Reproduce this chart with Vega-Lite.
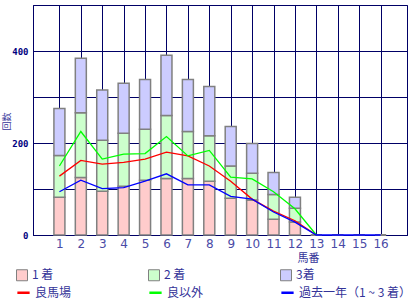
{
  "$schema": "https://vega.github.io/schema/vega-lite/v6.json",
  "width": 374,
  "height": 230,
  "autosize": {"type": "none"},
  "padding": {"left": 33, "top": 5, "right": 13, "bottom": 65},
  "background": "white",
  "config": {
    "view": {"stroke": "#000066", "strokeWidth": 1},
    "font": "Noto Sans CJK JP",
    "axis": {"gridColor": "#000066", "gridOpacity": 1, "gridWidth": 1, "domainColor": "#000066", "domainWidth": 1, "ticks": false},
    "axisX": {"labelOverlap": false, "labelBound": false, "labelFlush": false},
    "legend": {"padding": 0, "labelFont": "Noto Sans CJK JP", "labelFontSize": 12, "labelColor": "#333399", "labelOffset": 4, "title": null}
  },
  "datasets": {
    "bars": [
      {"umaban": 1, "place": "1 着", "count": 82}, {"umaban": 1, "place": "2 着", "count": 91}, {"umaban": 1, "place": "3着", "count": 102},
      {"umaban": 2, "place": "1 着", "count": 125}, {"umaban": 2, "place": "2 着", "count": 141}, {"umaban": 2, "place": "3着", "count": 118},
      {"umaban": 3, "place": "1 着", "count": 95}, {"umaban": 3, "place": "2 着", "count": 111}, {"umaban": 3, "place": "3着", "count": 109},
      {"umaban": 4, "place": "1 着", "count": 106}, {"umaban": 4, "place": "2 着", "count": 115}, {"umaban": 4, "place": "3着", "count": 109},
      {"umaban": 5, "place": "1 着", "count": 119}, {"umaban": 5, "place": "2 着", "count": 111}, {"umaban": 5, "place": "3着", "count": 108},
      {"umaban": 6, "place": "1 着", "count": 123}, {"umaban": 6, "place": "2 着", "count": 137}, {"umaban": 6, "place": "3着", "count": 131},
      {"umaban": 7, "place": "1 着", "count": 123}, {"umaban": 7, "place": "2 着", "count": 102}, {"umaban": 7, "place": "3着", "count": 113},
      {"umaban": 8, "place": "1 着", "count": 117}, {"umaban": 8, "place": "2 着", "count": 99}, {"umaban": 8, "place": "3着", "count": 107},
      {"umaban": 9, "place": "1 着", "count": 80}, {"umaban": 9, "place": "2 着", "count": 70}, {"umaban": 9, "place": "3着", "count": 86},
      {"umaban": 10, "place": "1 着", "count": 76}, {"umaban": 10, "place": "2 着", "count": 58}, {"umaban": 10, "place": "3着", "count": 65},
      {"umaban": 11, "place": "1 着", "count": 34}, {"umaban": 11, "place": "2 着", "count": 54}, {"umaban": 11, "place": "3着", "count": 48},
      {"umaban": 12, "place": "1 着", "count": 28}, {"umaban": 12, "place": "2 着", "count": 30}, {"umaban": 12, "place": "3着", "count": 24},
      {"umaban": 13, "place": "1 着", "count": 0}, {"umaban": 13, "place": "2 着", "count": 0}, {"umaban": 13, "place": "3着", "count": 0},
      {"umaban": 14, "place": "1 着", "count": 0}, {"umaban": 14, "place": "2 着", "count": 0}, {"umaban": 14, "place": "3着", "count": 0},
      {"umaban": 15, "place": "1 着", "count": 0}, {"umaban": 15, "place": "2 着", "count": 0}, {"umaban": 15, "place": "3着", "count": 0},
      {"umaban": 16, "place": "1 着", "count": 0}, {"umaban": 16, "place": "2 着", "count": 0}, {"umaban": 16, "place": "3着", "count": 0}
    ],
    "lines": [
      {"umaban": 1, "series": "良馬場", "value": 128}, {"umaban": 2, "series": "良馬場", "value": 162}, {"umaban": 3, "series": "良馬場", "value": 154},
      {"umaban": 4, "series": "良馬場", "value": 158}, {"umaban": 5, "series": "良馬場", "value": 165}, {"umaban": 6, "series": "良馬場", "value": 180},
      {"umaban": 7, "series": "良馬場", "value": 172}, {"umaban": 8, "series": "良馬場", "value": 150}, {"umaban": 9, "series": "良馬場", "value": 117},
      {"umaban": 10, "series": "良馬場", "value": 78}, {"umaban": 11, "series": "良馬場", "value": 52}, {"umaban": 12, "series": "良馬場", "value": 31},
      {"umaban": 13, "series": "良馬場", "value": 0},
      {"umaban": 1, "series": "良以外", "value": 150}, {"umaban": 2, "series": "良以外", "value": 225}, {"umaban": 3, "series": "良以外", "value": 165},
      {"umaban": 4, "series": "良以外", "value": 176}, {"umaban": 5, "series": "良以外", "value": 177}, {"umaban": 6, "series": "良以外", "value": 214},
      {"umaban": 7, "series": "良以外", "value": 172}, {"umaban": 8, "series": "良以外", "value": 184}, {"umaban": 9, "series": "良以外", "value": 126},
      {"umaban": 10, "series": "良以外", "value": 122}, {"umaban": 11, "series": "良以外", "value": 94}, {"umaban": 12, "series": "良以外", "value": 57},
      {"umaban": 13, "series": "良以外", "value": 0},
      {"umaban": 1, "series": "過去一年（1 ~ 3 着）", "value": 94}, {"umaban": 2, "series": "過去一年（1 ~ 3 着）", "value": 119}, {"umaban": 3, "series": "過去一年（1 ~ 3 着）", "value": 101},
      {"umaban": 4, "series": "過去一年（1 ~ 3 着）", "value": 103}, {"umaban": 5, "series": "過去一年（1 ~ 3 着）", "value": 117}, {"umaban": 6, "series": "過去一年（1 ~ 3 着）", "value": 133},
      {"umaban": 7, "series": "過去一年（1 ~ 3 着）", "value": 109}, {"umaban": 8, "series": "過去一年（1 ~ 3 着）", "value": 109}, {"umaban": 9, "series": "過去一年（1 ~ 3 着）", "value": 84},
      {"umaban": 10, "series": "過去一年（1 ~ 3 着）", "value": 78}, {"umaban": 11, "series": "過去一年（1 ~ 3 着）", "value": 50}, {"umaban": 12, "series": "過去一年（1 ~ 3 着）", "value": 28},
      {"umaban": 13, "series": "過去一年（1 ~ 3 着）", "value": 0}, {"umaban": 14, "series": "過去一年（1 ~ 3 着）", "value": 0}, {"umaban": 15, "series": "過去一年（1 ~ 3 着）", "value": 0},
      {"umaban": 16, "series": "過去一年（1 ~ 3 着）", "value": 0}
    ]
  },
  "encoding": {
    "x": {
      "field": "umaban", "type": "quantitative",
      "scale": {"domain": [0, 17], "nice": false},
      "axis": {
        "values": [1, 2, 3, 4, 5, 6, 7, 8, 9, 10, 11, 12, 13, 14, 15, 16],
        "grid": true, "labelOverlap": false, "labelFont": "DejaVu Sans", "labelFontSize": 12, "labelColor": "#4a4aa6", "labelPadding": 3,
        "title": "馬番", "titleFont": "Noto Sans CJK JP", "titleFontSize": 11, "titleFontWeight": "normal", "titleColor": "#333399",
        "titleX": 264, "titleY": 23, "titleAlign": "left", "titleBaseline": "middle", "titleAnchor": null
      }
    }
  },
  "layer": [
    {
      "data": {"name": "bars"},
      "mark": {"type": "bar", "size": 11, "stroke": "#808080", "strokeWidth": 1.5},
      "encoding": {
        "y": {
          "field": "count", "type": "quantitative", "stack": "zero",
          "scale": {"domain": [0, 500], "nice": false},
          "axis": {
            "values": [0, 100, 200, 300, 400, 500], "grid": true,
            "labelExpr": "datum.value % 200 == 0 ? datum.label : ''",
            "labelFont": "DejaVu Sans Mono", "labelFontWeight": "bold", "labelFontSize": 9, "labelColor": "#000080", "labelPadding": 5,
            "title": "回数", "titleFont": "Noto Sans CJK JP", "titleFontSize": 9, "titleFontWeight": "normal", "titleColor": "#333399",
            "titleX": -27, "titleY": 116, "titleAlign": "center", "titleBaseline": "middle", "titleAngle": 270
          }
        },
        "fill": {
          "field": "place", "type": "nominal",
          "scale": {"domain": ["1 着", "2 着", "3着"], "range": ["#ffcccc", "#ccffcc", "#ccccff"]},
          "legend": {
            "orient": "none", "legendX": -17, "legendY": 264, "direction": "horizontal", "columns": 3,
            "symbolType": "square", "symbolSize": 121, "symbolStrokeColor": "#808080", "symbolStrokeWidth": 1, "symbolOpacity": 1,
            "columnPadding": 92
          }
        },
        "order": {"field": "place", "type": "nominal", "sort": "ascending"}
      }
    },
    {
      "data": {"name": "lines"},
      "mark": {"type": "line", "strokeWidth": 1.3},
      "encoding": {
        "y": {"field": "value", "type": "quantitative"},
        "stroke": {
          "field": "series", "type": "nominal",
          "scale": {"domain": ["良馬場", "良以外", "過去一年（1 ~ 3 着）"], "range": ["#ff0000", "#00ff00", "#0000ff"]},
          "legend": {
            "orient": "none", "legendX": -17, "legendY": 280, "direction": "horizontal", "columns": 3,
            "symbolType": "stroke", "symbolSize": 150, "symbolStrokeWidth": 2.5,
            "columnPadding": 72
          }
        }
      }
    }
  ]
}
